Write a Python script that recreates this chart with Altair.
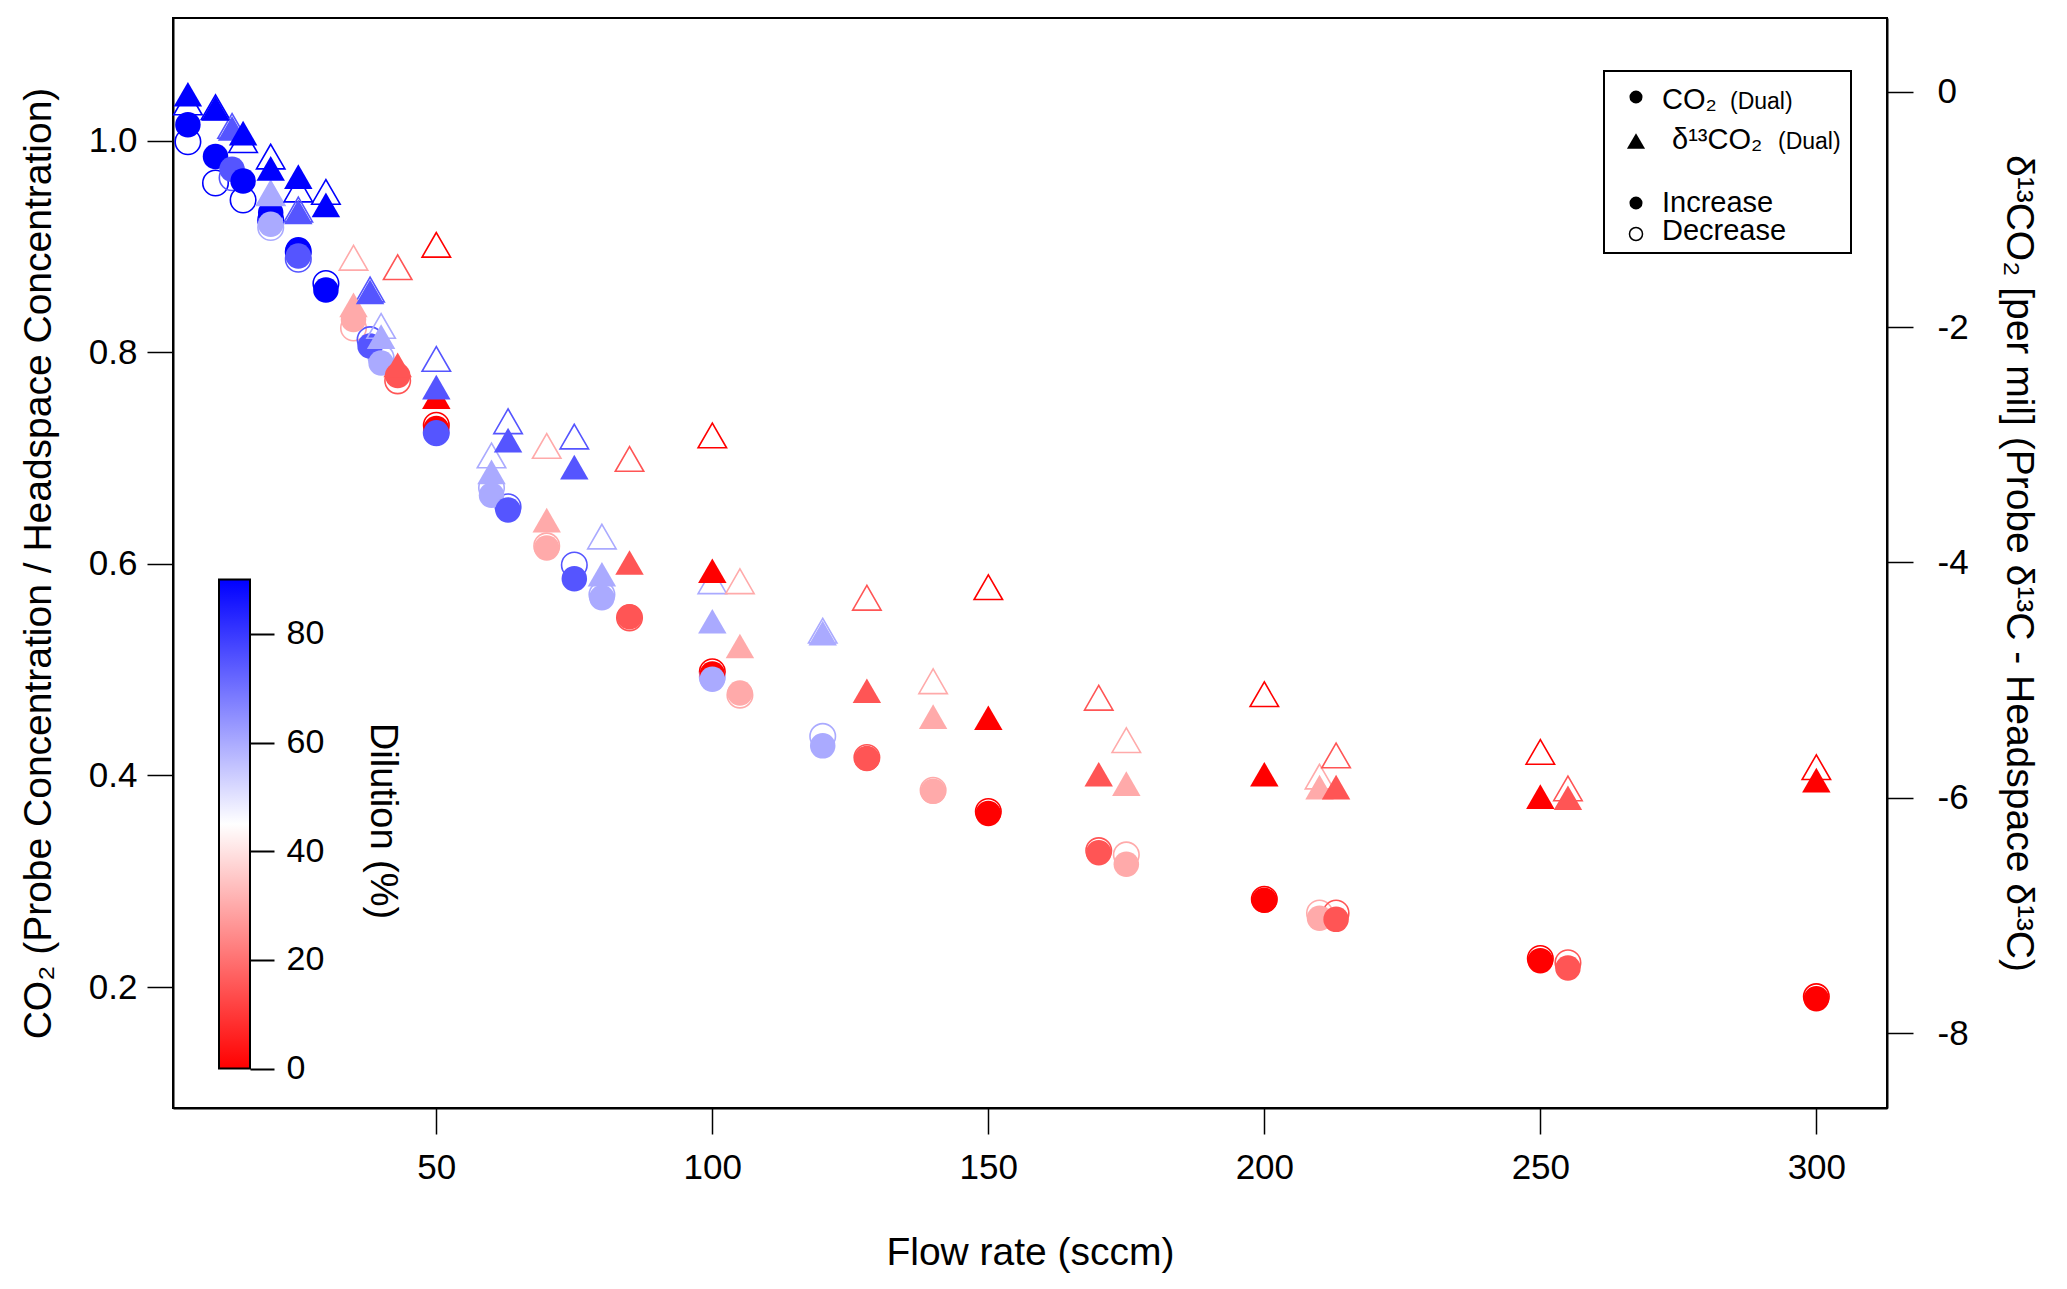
import altair as alt
import pandas as pd

# ---- data ----
flow = [5, 10, 13, 15, 20, 20, 25, 25, 30, 35, 38, 40, 43, 50, 50, 60, 63, 70, 75, 80,
        85, 100, 100, 105, 120, 128, 140, 150, 170, 175, 200, 210, 213, 250, 255, 300]
dilution = [90, 90, 75, 90, 90, 60, 90, 75, 90, 30, 75, 60, 15, 0, 75, 60, 75, 30, 75, 60,
            15, 0, 60, 30, 60, 15, 30, 0, 15, 30, 0, 30, 15, 0, 15, 0]
co2_increase = [1.015, 0.985, 0.973, 0.962, 0.932, 0.921, 0.897, 0.891, 0.859, 0.831,
                0.806, 0.790, 0.778, 0.728, 0.724, 0.665, 0.651, 0.615, 0.586, 0.568,
                0.550, 0.496, 0.491, 0.478, 0.428, 0.416, 0.385, 0.364, 0.327, 0.316,
                0.282, 0.265, 0.264, 0.225, 0.218, 0.189]
co2_decrease = [0.999, 0.960, 0.965, 0.944, 0.925, 0.918, 0.895, 0.888, 0.865, 0.823,
                0.812, 0.795, 0.773, 0.731, 0.724, 0.672, 0.654, 0.617, 0.599, 0.571,
                0.549, 0.498, 0.493, 0.476, 0.437, 0.417, 0.386, 0.366, 0.329, 0.325,
                0.283, 0.270, 0.270, 0.227, 0.223, 0.191]
d13c_increase = [-0.02, -0.14, -0.31, -0.35, -0.65, -0.86, -0.72, -1.02, -0.96, -1.81,
                 -1.70, -2.08, -2.32, -2.59, -2.51, -3.23, -2.96, -3.64, -3.19, -4.10,
                 -4.00, -4.07, -4.50, -4.71, -4.60, -5.09, -5.31, -5.32, -5.80, -5.88,
                 -5.80, -5.91, -5.91, -5.99, -6.00, -5.85]
d13c_decrease = [-0.09, -0.13, -0.29, -0.41, -0.55, -0.86, -0.83, -1.00, -0.85, -1.41,
                 -1.68, -1.99, -1.49, -1.30, -2.27, -3.09, -2.80, -3.01, -2.93, -3.78,
                 -3.12, -2.92, -4.16, -4.16, -4.58, -4.30, -5.01, -4.21, -5.15, -5.51,
                 -5.12, -5.82, -5.64, -5.61, -5.92, -5.74]

x_ticks = [50, 100, 150, 200, 250, 300]
left_ticks = [0.2, 0.4, 0.6, 0.8, 1.0]
right_ticks = [-8, -6, -4, -2, 0]
dil_ticks = [0, 20, 40, 60, 80]
dil_range = [0, 90]

FONT = "Liberation Sans"
W, H = 1714, 1090
RED, WHITE, BLUE = "#ff0000", "#ffffff", "#0000ff"

def frame(values):
    return pd.DataFrame({"flow": flow, "dilution": dilution, "val": values})

xs = alt.X("flow:Q", scale=alt.Scale(domain=[2.3, 312.8], nice=False, zero=False),
           axis=alt.Axis(values=x_ticks, title="Flow rate (sccm)", tickSize=26,
                         labelPadding=16, titlePadding=48))

def col_scale():
    return alt.Scale(domain=[0, 45, 90], range=[RED, WHITE, BLUE], interpolate="rgb")

fill_enc = alt.Fill("dilution:Q", scale=col_scale(), legend=None)
stroke_enc = alt.Stroke("dilution:Q", scale=col_scale(), legend=None)

left_scale = alt.Scale(domain=[0.0857, 1.116], nice=False, zero=False)
right_scale = alt.Scale(domain=[-8.637, 0.628], nice=False, zero=False)

left_axis = alt.Axis(orient="left", values=left_ticks, format=".1f", tickSize=26,
                     labelPadding=10,
                     title="CO\u2082 (Probe Concentration / Headspace Concentration)",
                     titlePadding=30)
right_axis = alt.Axis(orient="right", values=right_ticks, tickSize=26, labelPadding=24,
                      labelExpr="replace(datum.label, '\u2212', '-')",
                      title="\u03b4\u00b9\u00b3CO\u2082 [per mil]  (Probe \u03b4\u00b9\u00b3C - Headspace \u03b4\u00b9\u00b3C)",
                      titlePadding=30)

CSIZE, TSIZE = 650, 810

c_open = alt.Chart(frame(co2_decrease)).mark_point(
    shape="circle", filled=False, size=CSIZE, strokeWidth=1.6, opacity=1).encode(
    x=xs, y=alt.Y("val:Q", scale=left_scale, axis=left_axis), stroke=stroke_enc)
c_fill = alt.Chart(frame(co2_increase)).mark_point(
    shape="circle", filled=True, size=CSIZE, opacity=1).encode(
    x=xs, y=alt.Y("val:Q", scale=left_scale, axis=None), fill=fill_enc)
t_open = alt.Chart(frame(d13c_decrease)).mark_point(
    shape="triangle-up", filled=False, size=TSIZE, strokeWidth=1.6, opacity=1).encode(
    x=xs, y=alt.Y("val:Q", scale=right_scale, axis=right_axis), stroke=stroke_enc)
t_fill = alt.Chart(frame(d13c_increase)).mark_point(
    shape="triangle-up", filled=True, size=TSIZE, opacity=1).encode(
    x=xs, y=alt.Y("val:Q", scale=right_scale, axis=None), fill=fill_enc)

one = pd.DataFrame({"k": [0]})

# ---- colour bar (Dilution %) drawn as a gradient rectangle with its own axis ----
bar_scale = alt.Scale(domain=dil_range, range=[1050.5, 561.5], nice=False, zero=False)
bar_axis = alt.Axis(orient="right", offset=77 - W, values=dil_ticks, tickSize=24,
                    tickWidth=2, labelPadding=12, domain=False, title=None,
                    labelFontSize=34)
gradient = alt.Gradient(
    gradient="linear", x1=0, x2=0, y1=1, y2=0,
    stops=[alt.GradientStop(offset=0, color=RED),
           alt.GradientStop(offset=0.5, color=WHITE),
           alt.GradientStop(offset=1, color=BLUE)])
colorbar = alt.Chart(one).mark_rect(fill=gradient, stroke="black", strokeWidth=2).encode(
    x=alt.value(46), x2=alt.value(77),
    y=alt.YDatum(dil_range[0], type="quantitative", scale=bar_scale, axis=bar_axis),
    y2=alt.Y2Datum(dil_range[1]))

def txt(s, x, y, size, angle=0, align="left", baseline="alphabetic"):
    return alt.Chart(one).mark_text(text=s, fontSize=size, font=FONT, color="black",
                                    align=align, baseline=baseline, angle=angle).encode(
        x=alt.value(x), y=alt.value(y))

def sym(shape, x, y, size, filled=True):
    return alt.Chart(one).mark_point(shape=shape, filled=filled, size=size, color="black",
                                     strokeWidth=1.5, opacity=1).encode(
        x=alt.value(x), y=alt.value(y))

box = alt.Chart(one).mark_rect(fill="white", stroke="black", strokeWidth=2).encode(
    x=alt.value(1431), x2=alt.value(1678), y=alt.value(53), y2=alt.value(235))

deco = [
    box,
    sym("circle", 1463, 79, 170),
    txt("CO\u2082", 1489, 91, 29),
    txt("(Dual)", 1557, 91, 23),
    sym("triangle-up", 1463, 123, 330),
    txt("\u03b4\u00b9\u00b3CO\u2082", 1499, 131, 29),
    txt("(Dual)", 1605, 131, 23),
    sym("circle", 1463, 185, 170),
    txt("Increase", 1489, 194, 29),
    sym("circle", 1463, 216, 170, filled=False),
    txt("Decrease", 1489, 222, 29),
    txt("Dilution (%)", 209, 803, 38, angle=90, align="center", baseline="middle"),
]

chart = alt.layer(c_open, c_fill, t_open, t_fill, colorbar, *deco).resolve_scale(
    y="independent").properties(
    width=W, height=H,
    autosize=alt.AutoSizeParams(type="none"),
    padding={"left": 165, "top": 10, "right": 165, "bottom": 165},
).configure(font=FONT).configure_view(
    stroke="black", strokeWidth=2
).configure_axis(
    grid=False, labelFont=FONT, titleFont=FONT, labelFontSize=35, titleFontSize=39,
    labelColor="black", titleColor="black", tickColor="black", domainColor="black",
    tickWidth=1.5, domainWidth=2, titleFontWeight="normal", labelOverlap=False,
)

chart.save("out.html", embed_options={"renderer": "svg", "actions": False})
